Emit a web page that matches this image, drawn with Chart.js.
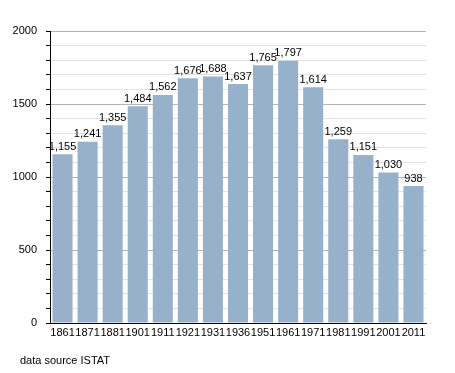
<!DOCTYPE html>
<html>
<head>
<meta charset="utf-8">
<script src="https://cdn.jsdelivr.net/npm/chart.js@4"></script>
<style>
  body { margin: 0; background: #fff; }
  #wrap { position: relative; width: 455px; height: 373px; }
</style>
</head>
<body>
<div id="wrap"><canvas id="popChart" width="455" height="373"></canvas></div>
<script>
// census years and population
const years = ['1861', '1871', '1881', '1901', '1911', '1921', '1931', '1936', '1951', '1961', '1971', '1981', '1991', '2001', '2011'];
const population = [1155, 1241, 1355, 1484, 1562, 1676, 1688, 1637, 1765, 1797, 1614, 1259, 1151, 1030, 938];
const yLabels = [0, 500, 1000, 1500, 2000];

const FONT = '"Liberation Sans", Arial, sans-serif';

// value labels above bars + source note
const labelPlugin = {
  id: 'labelPlugin',
  afterDatasetsDraw(chart) {
    const ctx = chart.ctx;
    const meta = chart.getDatasetMeta(0);
    ctx.save();
    ctx.font = '11px ' + FONT;
    ctx.fillStyle = '#000';
    ctx.textAlign = 'center';
    ctx.textBaseline = 'bottom';
    meta.data.forEach((bar, i) => {
      ctx.fillText(population[i].toLocaleString('en-US'), bar.x, bar.y - 2);
    });
    ctx.textAlign = 'left';
    ctx.textBaseline = 'middle';
    ctx.fillText('data source ISTAT', 20, 361);
    ctx.restore();
  }
};

const popChart = new Chart(document.getElementById('popChart'), {
  type: 'bar',
  data: {
    labels: years,
    datasets: [
      {
        data: population,
        backgroundColor: '#97b1cb',
        categoryPercentage: 0.8,
        barPercentage: 1.0,
      },
    ],
  },
  options: {
    responsive: false,
    animation: false,
    layout: { padding: { left: 0, right: 29, top: 31, bottom: 0 } },
    plugins: {
      legend: { display: false },
      tooltip: { enabled: false },
    },
    scales: {
      x: {
        grid: { display: false, drawTicks: false },
        border: { color: '#000', width: 1 },
        ticks: {
          color: '#000',
          font: { family: FONT, size: 11 },
          padding: 3,
          maxRotation: 0,
          autoSkip: false,
        },
        afterFit(scale) { scale.height = 50; },
      },
      y: {
        min: 0,
        max: 2000,
        border: { color: '#000', width: 1 },
        grid: {
          color: (c) => (c.tick && c.tick.value % 500 === 0 ? '#b4b4b4' : '#e2e2e2'),
          tickColor: '#000',
          tickLength: 4,
        },
        ticks: {
          stepSize: 100,
          autoSkip: false,
          color: '#000',
          font: { family: FONT, size: 11 },
          padding: 9,
          callback: (v) => (yLabels.includes(v) ? String(v) : ''),
        },
        afterFit(scale) { scale.width = 50; },
      },
    },
  },
  plugins: [labelPlugin],
});
</script>
</body>
</html>
